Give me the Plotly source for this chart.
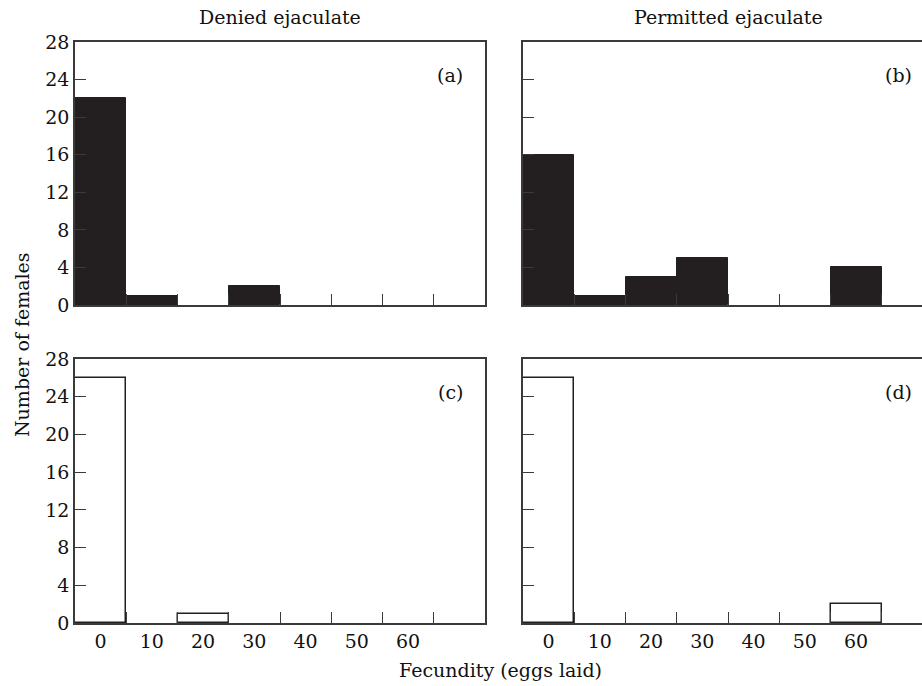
import plotly.graph_objects as go

# Data
bins = [0, 10, 20, 30, 40, 50, 60]
bin_edges = [5, 15, 25, 35, 45, 55, 65]
denied_a = [22, 1, 0, 2, 0, 0, 0]
permitted_b = [16, 1, 3, 5, 0, 0, 4]
denied_c = [26, 0, 1, 0, 0, 0, 0]
permitted_d = [26, 0, 0, 0, 0, 0, 2]
y_ticks = [0, 4, 8, 12, 16, 20, 24, 28]
x_labels = ["0", "10", "20", "30", "40", "50", "60"]
panel_labels = ["(a)", "(b)", "(c)", "(d)"]
col_titles = ["Denied ejaculate", "Permitted ejaculate"]
x_title = "Fecundity (eggs laid)"
y_title = "Number of females"

FONT = "DejaVu Serif"
FS = 19
DARK = "#231f20"
LINE = "#3a3a3a"
TXT = "#111111"

W, H = 922, 686
ml, mr, mt, mb = 75, 0, 42, 63
pw = W - ml - mr
ph = H - mt - mb


def px_to_paper_x(px):
    return (px - ml) / pw


def px_to_paper_y(py):
    return (H - mb - py) / ph


a_x = [0, px_to_paper_x(485)]
b_x = [px_to_paper_x(523), 1.0]
top_y = [px_to_paper_y(305), 1.0]
bot_y = [0, px_to_paper_y(359)]


def nz(vals):
    # empty bins are not drawn as bars
    return [v if v else None for v in vals]


fig = go.Figure()

filled = dict(marker=dict(color=DARK, line=dict(color=DARK, width=1)))
empty = dict(marker=dict(color="white", line=dict(color=DARK, width=1.5)))

fig.add_trace(go.Bar(x=bins, y=nz(denied_a), width=10, xaxis="x", yaxis="y", **filled))
fig.add_trace(go.Bar(x=bins, y=nz(permitted_b), width=10, xaxis="x2", yaxis="y2", **filled))
fig.add_trace(go.Bar(x=bins, y=nz(denied_c), width=10, xaxis="x3", yaxis="y3", **empty))
fig.add_trace(go.Bar(x=bins, y=nz(permitted_d), width=10, xaxis="x4", yaxis="y4", **empty))

px_per_unit = (485 - 75) / 80.0
a_range = [-5, 75]
b_range = [-5, -5 + (W - 523) / px_per_unit]


def xax(domain, anchor, rng, labels):
    return dict(
        domain=domain, anchor=anchor, range=rng, automargin=False,
        tickmode="array", tickvals=bins, ticktext=x_labels,
        showticklabels=labels, ticks="", ticklen=0,
        minor=dict(tickmode="array", tickvals=bin_edges, ticks="inside", ticklen=11,
                   tickwidth=1.3, tickcolor=LINE),
        showline=True, linecolor=LINE, linewidth=1.5, mirror=True,
        showgrid=False, zeroline=False, fixedrange=True,
        tickfont=dict(family=FONT, size=FS, color=TXT),
    )


def yax(domain, anchor, labels, mirror):
    return dict(
        domain=domain, anchor=anchor, range=[0, 28], automargin=False,
        tickmode="array", tickvals=y_ticks, showticklabels=labels,
        ticks="inside", ticklen=11, tickwidth=1.3, tickcolor=LINE,
        showline=True, linecolor=LINE, linewidth=1.5, mirror=mirror,
        showgrid=False, zeroline=False, fixedrange=True,
        tickfont=dict(family=FONT, size=FS, color=TXT),
    )


annos = []
for i, (xr, yr) in enumerate([("x", "y"), ("x2", "y2"), ("x3", "y3"), ("x4", "y4")]):
    annos.append(dict(text=panel_labels[i], x=68.2, y=24.5, xref=xr, yref=yr,
                      xanchor="center", yanchor="middle", showarrow=False,
                      font=dict(family=FONT, size=FS, color=TXT)))
for title, cx in zip(col_titles, [280, 728]):
    annos.append(dict(text=title, x=px_to_paper_x(cx), y=px_to_paper_y(17),
                      xref="paper", yref="paper", xanchor="center", yanchor="middle",
                      showarrow=False, font=dict(family=FONT, size=FS, color=TXT)))
annos.append(dict(text=x_title, x=px_to_paper_x(500), y=px_to_paper_y(670),
                  xref="paper", yref="paper", xanchor="center", yanchor="middle",
                  showarrow=False, font=dict(family=FONT, size=FS, color=TXT)))
annos.append(dict(text=y_title, x=px_to_paper_x(22), y=px_to_paper_y(345),
                  xref="paper", yref="paper", xanchor="center", yanchor="middle",
                  textangle=-90, showarrow=False,
                  font=dict(family=FONT, size=FS, color=TXT)))

fig.update_layout(
    width=W, height=H,
    margin=dict(l=ml, r=mr, t=mt, b=mb, pad=0),
    paper_bgcolor="white", plot_bgcolor="white",
    showlegend=False, bargap=0,
    font=dict(family=FONT, size=FS, color=TXT),
    xaxis=xax(a_x, "y", a_range, False),
    yaxis=yax(top_y, "x", True, True),
    xaxis2=xax(b_x, "y2", b_range, False),
    yaxis2=yax(top_y, "x2", False, False),
    xaxis3=xax(a_x, "y3", a_range, True),
    yaxis3=yax(bot_y, "x3", True, True),
    xaxis4=xax(b_x, "y4", b_range, True),
    yaxis4=yax(bot_y, "x4", False, False),
    annotations=annos,
)

fig.write_html(
    "out.html",
    config={"displayModeBar": False},
    post_script="document.body.style.margin='0';document.body.style.overflow='hidden';",
)
